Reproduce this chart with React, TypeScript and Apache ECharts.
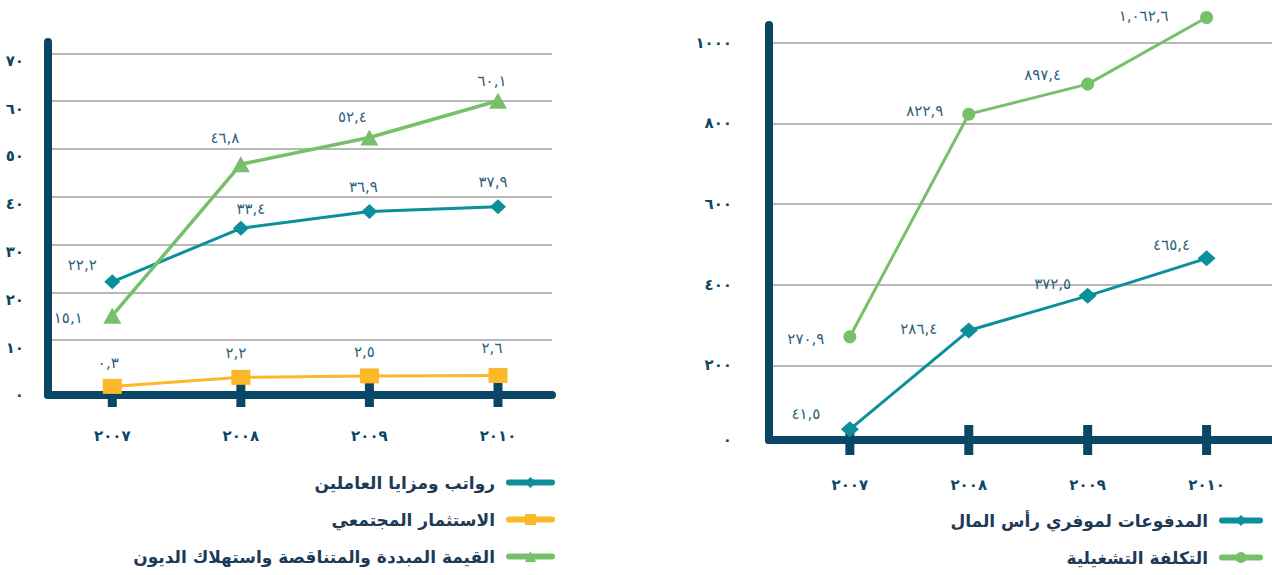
import React, { useEffect, useRef } from 'react';
import * as echarts from 'echarts';

// ---------- data ----------
const years = [2007, 2008, 2009, 2010];
const salaries = [22.2, 33.4, 36.9, 37.9];
const community = [0.3, 2.2, 2.5, 2.6];
const depreciation = [15.1, 46.8, 52.4, 60.1];
const capitalPayments = [41.5, 286.4, 372.5, 465.4];
const operatingCost = [270.9, 822.9, 897.4, 1062.6];
const leftYTicks = [0, 10, 20, 30, 40, 50, 60, 70];
const rightYTicks = [0, 200, 400, 600, 800, 1000];

const NAME_SAL = 'رواتب ومزايا العاملين';
const NAME_COM = 'الاستثمار المجتمعي';
const NAME_DEP = 'القيمة المبددة والمتناقصة واستهلاك الديون';
const NAME_CAP = 'المدفوعات لموفري رأس المال';
const NAME_OPS = 'التكلفة التشغيلية';

// ---------- style constants ----------
const NAVY = '#0a4766';
const TEAL = '#0a8f9b';
const GREEN = '#77c06a';
const YELLOW = '#fbb828';
const GRID_GRAY = '#a0a0a0';
const LABEL_COLOR = '#2b5f7c';
const FONT = "'DejaVu Sans', sans-serif";

// label nudges (label centre relative to marker centre)
const salShift = [[-30, -17], [10, -19], [-6, -25], [-5, -25]];
const depShift = [[-44, 2], [-16, -26], [-17, -21], [-6, -20]];
const comShift = [[-4, -23], [-5, -24], [-5, -24], [-6, -27]];
const opsShift = [[-44, 2], [-44, -3], [-45, -9], [-63, -1]];
const capShift = [[-44, -15], [-50, -2], [-35, -12], [-35, -13]];

// axis extents
const L_XMIN = 2006.5, L_XMAX = 2010.42, L_YMIN = -1.5, L_YMAX = 72.4;
const R_XMIN = 2006.32, R_XMAX = 2010.55, R_YMIN = 15, R_YMAX = 1044;

const AR = '٠١٢٣٤٥٦٧٨٩';
const toAr = (s: string) => s.replace(/[0-9]/g, (d) => AR[+d]).replace(/\./g, ',');
const fmtVal = (v: number) =>
  toAr(v.toLocaleString('en-US', { minimumFractionDigits: 1, maximumFractionDigits: 1 }));

const pts = (vals: number[], shift: number[][]) =>
  years.map((y, i) => ({ value: [y, vals[i]], label: { offset: shift[i] } }));

const lineSeries = (
  name: string,
  vals: number[],
  shift: number[][],
  color: string,
  symbol: string,
  symbolSize: any,
  width: number,
  axisIndex: number
) => ({
  type: 'line',
  name,
  xAxisIndex: axisIndex,
  yAxisIndex: axisIndex,
  data: pts(vals, shift),
  symbol,
  symbolSize,
  clip: false,
  z: 3,
  lineStyle: { color, width },
  itemStyle: { color, opacity: 1 },
  label: {
    show: true,
    position: 'inside',
    formatter: (p: any) => fmtVal(p.value[1]),
    color: LABEL_COLOR,
    fontSize: 15,
    fontFamily: FONT,
  },
});

const tickSeries = (axisIndex: number, yMin: number, size: number[]) => ({
  type: 'scatter',
  xAxisIndex: axisIndex,
  yAxisIndex: axisIndex,
  data: years.map((y) => [y, yMin]),
  symbol: 'rect',
  symbolSize: size,
  itemStyle: { color: NAVY, opacity: 1 },
  clip: false,
  silent: true,
  z: 1,
});

const axisLineStyle = { show: true, onZero: false, lineStyle: { color: NAVY, width: 8 } };

const legendText = {
  fontSize: 17,
  fontWeight: 'bold',
  color: '#1d3a57',
  fontFamily: FONT,
  padding: [0, 9, 0, 0],
};

const option: any = {
  animation: false,
  textStyle: { fontFamily: FONT },
  grid: [
    { left: 48, right: 720, top: 42, bottom: 180 },
    { left: 769, right: 0, top: 25, bottom: 135 },
  ],
  xAxis: [
    {
      type: 'value',
      gridIndex: 0,
      min: L_XMIN,
      max: L_XMAX,
      axisLine: axisLineStyle,
      axisTick: { show: false, customValues: years },
      splitLine: { show: false },
      axisLabel: {
        customValues: years,
        formatter: (v: number) => toAr(String(Math.round(v))),
        color: NAVY,
        fontWeight: 'bold',
        fontSize: 15,
        fontFamily: FONT,
        margin: 33,
      },
    },
    {
      type: 'value',
      gridIndex: 1,
      min: R_XMIN,
      max: R_XMAX,
      axisLine: axisLineStyle,
      axisTick: { show: false, customValues: years },
      splitLine: { show: false },
      axisLabel: {
        customValues: years,
        formatter: (v: number) => toAr(String(Math.round(v))),
        color: NAVY,
        fontWeight: 'bold',
        fontSize: 15,
        fontFamily: FONT,
        margin: 37,
      },
    },
  ],
  yAxis: [
    {
      type: 'value',
      gridIndex: 0,
      min: L_YMIN,
      max: L_YMAX,
      axisLine: axisLineStyle,
      axisTick: { show: false, customValues: leftYTicks.filter((v) => v > 0) },
      splitLine: { show: true, lineStyle: { color: GRID_GRAY, width: 1.5 } },
      axisLabel: {
        customValues: leftYTicks,
        formatter: (v: number) => toAr(String(Math.round(v))),
        color: NAVY,
        fontWeight: 'bold',
        fontSize: 15,
        fontFamily: FONT,
        margin: 24,
        verticalAlign: 'top',
      },
    },
    {
      type: 'value',
      gridIndex: 1,
      min: R_YMIN,
      max: R_YMAX,
      axisLine: axisLineStyle,
      axisTick: { show: false, customValues: rightYTicks.filter((v) => v > 0) },
      splitLine: { show: true, lineStyle: { color: GRID_GRAY, width: 1.5 } },
      axisLabel: {
        customValues: rightYTicks.map((v) => Math.max(v, R_YMIN)),
        formatter: (v: number) => toAr(String(Math.round(v / 200) * 200)),
        color: NAVY,
        fontWeight: 'bold',
        fontSize: 15,
        fontFamily: FONT,
        margin: 37,
      },
    },
  ],
  legend: [
    {
      orient: 'vertical',
      right: 712,
      top: 469,
      align: 'right',
      itemWidth: 43,
      itemHeight: 14,
      itemGap: 20,
      data: [NAME_SAL, NAME_COM, NAME_DEP],
      lineStyle: { width: 6, cap: 'round' },
      textStyle: legendText,
    },
    {
      orient: 'vertical',
      right: 4,
      top: 507,
      align: 'right',
      itemWidth: 38,
      itemHeight: 14,
      itemGap: 20,
      data: [NAME_CAP, NAME_OPS],
      lineStyle: { width: 6, cap: 'round' },
      textStyle: legendText,
    },
  ],
  series: [
    tickSeries(0, L_YMIN, [9, 24]),
    tickSeries(1, R_YMIN, [9, 30]),
    lineSeries(NAME_SAL, salaries, salShift, TEAL, 'diamond', [16, 15], 3, 0),
    lineSeries(NAME_COM, community, comShift, YELLOW, 'rect', [19, 15], 3, 0),
    lineSeries(NAME_DEP, depreciation, depShift, GREEN, 'triangle', [18, 16], 3.5, 0),
    lineSeries(NAME_CAP, capitalPayments, capShift, TEAL, 'diamond', [18, 16], 3, 1),
    lineSeries(NAME_OPS, operatingCost, opsShift, GREEN, 'circle', 13, 3, 1),
  ],
};

export default function App() {
  const ref = useRef<HTMLDivElement>(null);
  useEffect(() => {
    document.body.style.margin = '0';
    const chart = echarts.init(ref.current!, null, { renderer: 'svg' });
    chart.setOption(option);
    return () => chart.dispose();
  }, []);
  return <div ref={ref} style={{ width: 1272, height: 575 }} />;
}
